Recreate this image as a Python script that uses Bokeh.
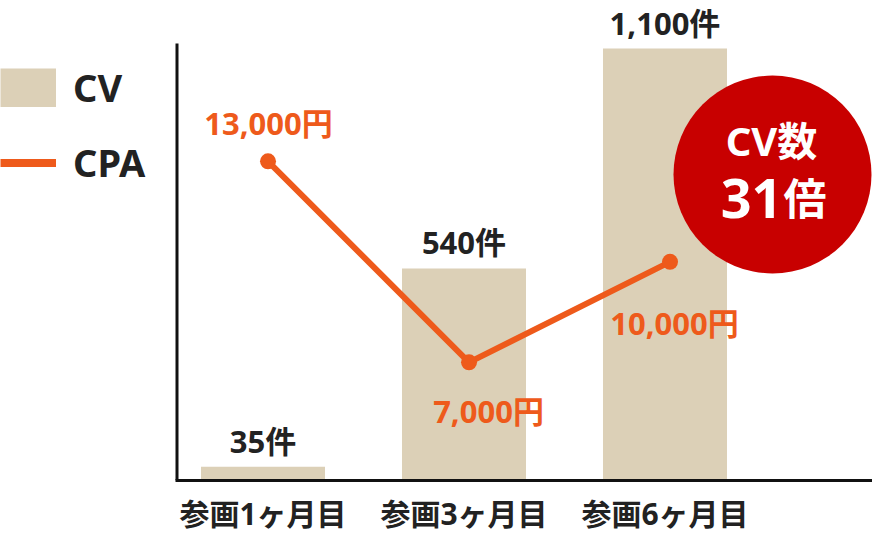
from bokeh.plotting import figure
from bokeh.models import (Range1d, FixedTicker, ColumnDataSource,
                          LabelSet, Label, Legend, LegendItem)
from bokeh.core.properties import value
from bokeh.embed import file_html
from bokeh.resources import INLINE

# ---------------- data ----------------
categories = ["参画1ヶ月目", "参画3ヶ月目", "参画6ヶ月目"]
cv_values = [35, 540, 1100]
cpa_values = [13000, 7000, 10000]
cv_unit = "件"
cpa_unit = "円"
badge_line1 = "CV数"
badge_number = "31"
badge_unit = "倍"

# ---------------- style ----------------
BEIGE = "#DCD0B7"
ORANGE = "#EE5A1B"
RED = "#C80000"
DARK = "#222222"
AXIS = "#111111"
FONT_STR = "'Noto Sans', 'Noto Sans CJK JP'"
FONT = value(FONT_STR)

W, H = 872, 540
FB = 480                      # frame bottom (px); frame spans full width/top
PX_PER_CAT = 201.0
X0 = -262.5 / PX_PER_CAT
X1 = X0 + W / PX_PER_CAT
CV_PER_PX = 1100 / 432.0
CV_END = FB * CV_PER_PX
CPA_PER_PX = 1 / 0.0335
CPA_START = 10000 - (FB - 261.33) * CPA_PER_PX
CPA_END = 10000 + 261.33 * CPA_PER_PX
LINE_DODGE = 0.025
YAXIS_PX = 176.5
YAXIS_TOP_PX = 43
NAN = float("nan")


def fx(px):
    return X0 + px / PX_PER_CAT


def fy(py):
    return (FB - py) * CV_PER_PX


idx = list(range(len(categories)))
src = ColumnDataSource(dict(
    x=idx,
    xl=[i + LINE_DODGE for i in idx],
    cv=cv_values,
    cpa=cpa_values,
    cv_text=[f"{v:,}{cv_unit}" for v in cv_values],
    cpa_text=[f"{v:,}{cpa_unit}" for v in cpa_values],
    cpa_dx=[0.5, 19.5, 4.5],
    cpa_dy=[38, -49, -61],
))

p = figure(width=W, height=H, x_range=Range1d(X0, X1), y_range=Range1d(0, CV_END),
           output_backend="svg", toolbar_location=None,
           min_border_left=0, min_border_right=0, min_border_top=0,
           min_border_bottom=H - FB)
p.extra_y_ranges = {"cpa": Range1d(CPA_START, CPA_END)}
p.outline_line_color = None
p.xgrid.grid_line_color = None
p.ygrid.grid_line_color = None
p.background_fill_color = "white"
p.border_fill_color = "white"

# axes
p.yaxis.visible = False
p.xaxis.ticker = FixedTicker(ticks=idx)
p.xaxis.bounds = (fx(YAXIS_PX - 1.5), X1)
p.xaxis.major_label_overrides = {i: c for i, c in zip(idx, categories)}
p.xaxis.axis_line_width = 3
p.xaxis.axis_line_color = AXIS
p.xaxis.major_tick_line_color = None
p.xaxis.minor_tick_line_color = None
p.xaxis.major_tick_out = 0
p.xaxis.major_label_standoff = 12
p.xaxis.major_label_text_font = FONT_STR
p.xaxis.major_label_text_font_size = "30px"
p.xaxis.major_label_text_font_style = "bold"
p.xaxis.major_label_text_color = DARK

# vertical axis line
p.segment(x0=[fx(YAXIS_PX)], y0=[0], x1=[fx(YAXIS_PX)], y1=[fy(YAXIS_TOP_PX)],
          line_color=AXIS, line_width=3)

# bars
p.vbar(x="x", top="cv", width=0.617, source=src, fill_color=BEIGE, line_color=None)

# badge
p.scatter(x=[fx(772)], y=[fy(174)], size=198, marker="circle",
          fill_color=RED, line_color=None)

# CPA line
p.line(x="xl", y="cpa", source=src, y_range_name="cpa", line_color=ORANGE, line_width=6)
p.scatter(x="xl", y="cpa", source=src, y_range_name="cpa", size=16,
          fill_color=ORANGE, line_color=None)

# labels
p.add_layout(LabelSet(x="x", y="cv", text="cv_text", source=src, y_offset=26,
                      text_align="center", text_baseline="middle",
                      text_font=FONT, text_font_size="31px", text_font_style="bold",
                      text_color=DARK))
p.add_layout(LabelSet(x="xl", y="cpa", text="cpa_text", source=src, y_range_name="cpa",
                      x_offset="cpa_dx", y_offset="cpa_dy",
                      text_align="center", text_baseline="middle",
                      text_font=FONT, text_font_size="31px", text_font_style="bold",
                      text_color=ORANGE))

p.add_layout(Label(x=fx(771), y=fy(140), text=badge_line1, text_align="center",
                   text_baseline="middle", text_font=FONT_STR, text_font_size="40px",
                   text_font_style="bold", text_color="white"))
p.add_layout(Label(x=fx(782), y=fy(198), text=badge_number, text_align="right",
                   text_baseline="alphabetic", text_font=FONT_STR, text_font_size="54px",
                   text_font_style="bold", text_color="white"))
p.add_layout(Label(x=fx(783), y=fy(198), text=badge_unit, text_align="left",
                   text_baseline="alphabetic", text_font=FONT_STR, text_font_size="43px",
                   text_font_style="bold", text_color="white"))

# legend keys (styled swatches; nothing drawn in the plot area)
cv_key = p.line(x=[NAN, NAN], y=[NAN, NAN], line_color=BEIGE, line_width=39)
cpa_key = p.line(x=[NAN, NAN], y=[NAN, NAN], line_color=ORANGE, line_width=8)
legend = Legend(items=[LegendItem(label="CV", renderers=[cv_key]),
                       LegendItem(label="CPA", renderers=[cpa_key])],
                location=(0, 292), glyph_width=56, glyph_height=39,
                label_standoff=17, spacing=23, padding=0, margin=0,
                border_line_color=None, background_fill_alpha=0,
                label_text_font=FONT_STR, label_text_font_size="38px",
                label_text_font_style="bold", label_text_color=DARK)
p.add_layout(legend)

open("out.html", "w").write(file_html(p, INLINE))
